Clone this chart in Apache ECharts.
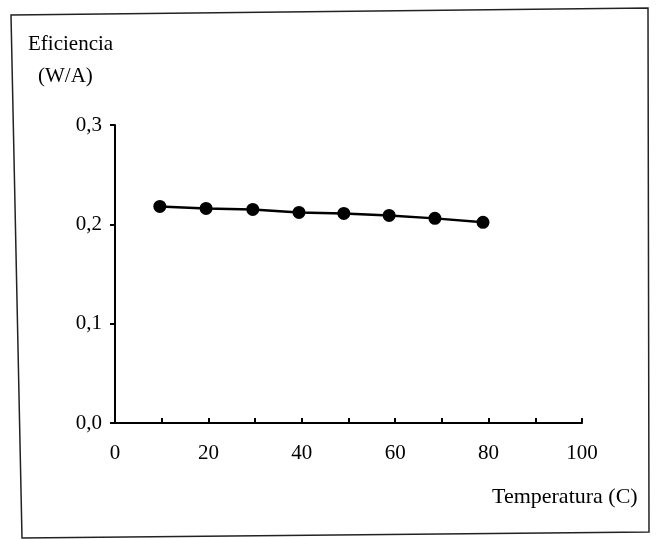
<!DOCTYPE html>
<html>
<head>
<meta charset="utf-8">
<script src="https://cdn.jsdelivr.net/npm/echarts@6/dist/echarts.min.js"></script>
<style>
  html, body { margin: 0; padding: 0; background: #fff; }
  #chart { width: 661px; height: 539px; }
</style>
</head>
<body>
<div id="chart"></div>
<script>
// temperatura (C) y eficiencia (W/A)
const temperatures = [9.6, 19.5, 29.5, 39.4, 49.0, 58.7, 68.5, 78.8];
const efficiencies = [0.218, 0.216, 0.215, 0.212, 0.211, 0.209, 0.206, 0.202];
const xLabels = [0, 20, 40, 60, 80, 100];
const yLabels = [0.0, 0.1, 0.2, 0.3];

const serif = '"Liberation Serif", "DejaVu Serif", serif';
const comma = (v) => v.toFixed(1).replace('.', ',');

const chart = echarts.init(document.getElementById('chart'));
const option = {
    backgroundColor: '#fff',
    animation: false,
    grid: {
        left: 115,
        right: 79,
        top: 125,
        bottom: 116,
    },
    xAxis: {
        type: 'value',
        min: 0,
        max: 100,
        interval: 10,
        axisLine: { lineStyle: { color: '#000', width: 2 } },
        axisTick: { inside: true, length: 5, lineStyle: { color: '#000', width: 2 } },
        splitLine: { show: false },
        axisLabel: {
            margin: 20,
            color: '#000',
            fontFamily: serif,
            fontSize: 21,
            formatter: (v) => (xLabels.includes(v) ? String(v) : ''),
        },
    },
    yAxis: {
        type: 'value',
        min: 0,
        max: 0.3,
        interval: 0.1,
        axisLine: { show: true, lineStyle: { color: '#000', width: 2 } },
        axisTick: { show: true, length: 5, lineStyle: { color: '#000', width: 2 } },
        splitLine: { show: false },
        axisLabel: {
            margin: 13,
            color: '#000',
            fontFamily: serif,
            fontSize: 21,
            formatter: (v) => {
                const hit = yLabels.find((t) => Math.abs(t - v) < 1e-6);
                return hit === undefined ? '' : comma(hit);
            },
        },
    },
    series: [
        {
            type: 'line',
            data: temperatures.map((t, i) => [t, efficiencies[i]]),
            symbol: 'circle',
            symbolSize: 13,
            itemStyle: { color: '#000' },
            lineStyle: { color: '#000', width: 2.5 },
        },
    ],
    graphic: [
        {
            type: 'polygon',
            shape: { points: [[11, 15], [648, 8], [649, 532], [22, 538]] },
            style: { fill: 'none', stroke: '#222', lineWidth: 1.5 },
            silent: true,
        },
        {
            type: 'text',
            left: 28,
            top: 34,
            style: { text: 'Eficiencia', font: '21px ' + serif, fill: '#000' },
        },
        {
            type: 'text',
            left: 38,
            top: 66,
            style: { text: '(W/A)', font: '21px ' + serif, fill: '#000' },
        },
        {
            type: 'text',
            left: 492,
            top: 486,
            style: { text: 'Temperatura (C)', font: '22px ' + serif, fill: '#000' },
        },
    ],
};
chart.setOption(option);
window.addEventListener('resize', () => {
    chart.resize();
});
</script>
</body>
</html>
